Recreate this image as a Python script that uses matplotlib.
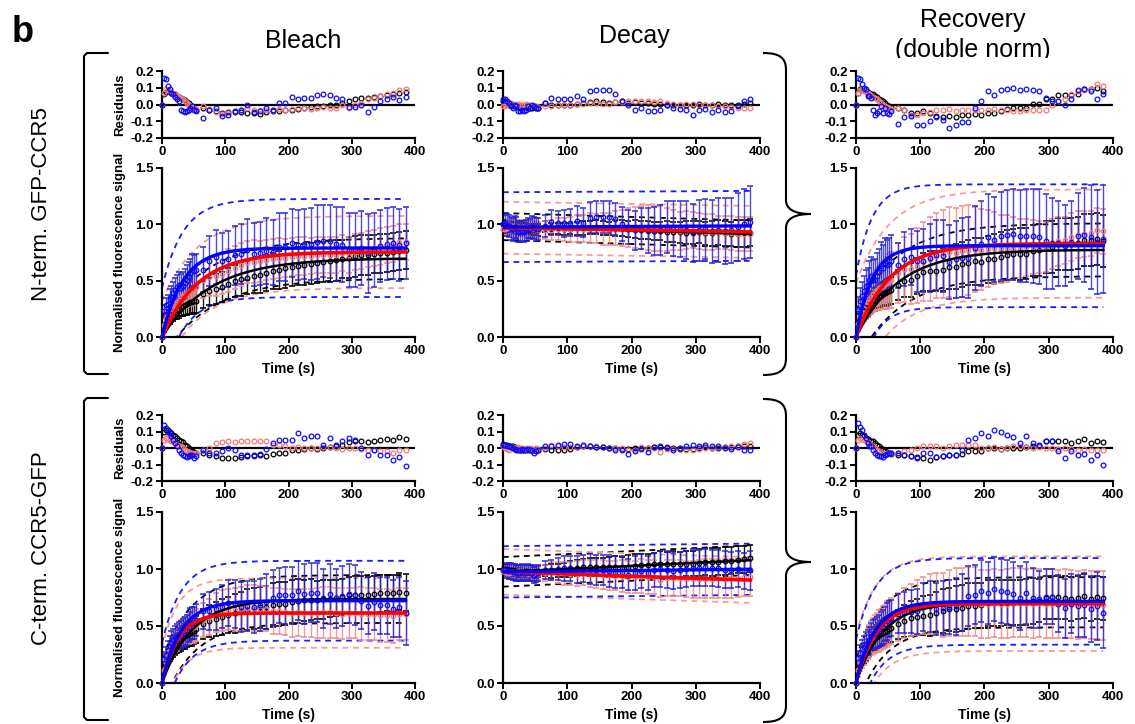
import numpy as np
import matplotlib
matplotlib.use("Agg")
import matplotlib.pyplot as plt
from matplotlib.path import Path
from matplotlib.patches import PathPatch
from matplotlib.transforms import Bbox, TransformedBbox

plt.rcParams['font.family'] = ['Liberation Sans', 'DejaVu Sans']
plt.rcParams['font.weight'] = 'bold'

# ---------------------------------------------------------------- time axis (s)
t_early = [0, 3, 6, 9, 12, 15, 18, 21, 24, 27, 30, 33, 36, 39, 42, 45, 48, 51, 54]
t_late = [65, 75, 85, 95, 105, 115, 125, 135, 145, 155, 165,
          175, 185, 195, 205, 215, 225, 235, 245, 255, 265, 275,
          285, 295, 305, 315, 325, 335, 345, 355, 365, 375, 385]

# series order everywhere: black, red, blue
# ---------------------------------------------------------------- fit parameters
# recovery-type fits: plateau * (1 - exp(-rate * t)); decay fits: start * exp(-rate * t)
nt_bleach_plateau = [0.70, 0.755, 0.79]
nt_bleach_rate = [0.0129, 0.0177, 0.030]
nt_bleach_band = [0.18, 0.32, 0.435]

nt_decay_start = [0.98, 0.97, 0.975]
nt_decay_rate = [0.00018, 0.0001, -0.00003]
nt_decay_band = [0.12, 0.23, 0.31]

nt_recov_plateau = [0.775, 0.83, 0.81]
nt_recov_rate = [0.015, 0.019, 0.040]
nt_recov_band = [0.235, 0.48, 0.545]

ct_bleach_plateau = [0.737, 0.614, 0.722]
ct_bleach_rate = [0.021, 0.039, 0.033]
ct_bleach_band = [0.21, 0.305, 0.35]

ct_decay_start = [0.975, 0.975, 0.975]
ct_decay_rate = [-0.00026, 0.0002, -0.00006]
ct_decay_band = [0.13, 0.20, 0.225]

ct_recov_plateau = [0.708, 0.696, 0.716]
ct_recov_rate = [0.024, 0.032, 0.034]
ct_recov_band = [0.22, 0.415, 0.38]

# ---------------------------------------------------------------- residuals (data - fit)
# N-term. GFP-CCR5, bleach
nt_bleach_res_k = [0.0, 0.06, 0.075, 0.08, 0.075, 0.07, 0.065, 0.06, 0.05, 0.045,
                   0.04, 0.03, 0.025, 0.015, 0.01, 0.0, -0.01, -0.02, -0.03,
                   -0.02, -0.03, -0.04, -0.05, -0.045, -0.045, -0.045, -0.05, -0.05, -0.055, -0.045,
                   -0.04, -0.04, -0.035, -0.03, -0.025, -0.02, -0.015, -0.01, -0.01, -0.005, 0.0,
                   0.01, 0.02, 0.03, 0.04, 0.04, 0.045, 0.05, 0.055, 0.06, 0.07, 0.075]
nt_bleach_res_r = [0.0, 0.07, 0.09, 0.085, 0.08, 0.07, 0.065, 0.06, 0.05, 0.045,
                   0.04, 0.03, 0.02, 0.01, 0.0, -0.01, -0.015, -0.02, -0.025,
                   -0.01, -0.025, -0.045, -0.055, -0.05, -0.04, -0.03, -0.02, -0.03, -0.035, -0.03,
                   -0.03, -0.025, -0.03, -0.025, -0.02, -0.02, -0.025, -0.02, -0.015, -0.02, -0.02,
                   -0.005, -0.02, 0.0, 0.01, 0.03, 0.04, 0.05, 0.06, 0.07, 0.085, 0.09]
nt_bleach_res_b = [0.0, 0.16, 0.15, 0.11, 0.095, 0.07, 0.06, 0.045, 0.035, 0.02,
                   -0.03, -0.04, -0.045, -0.04, -0.03, -0.02, -0.01, -0.035, -0.04,
                   -0.08, -0.03, -0.02, -0.07, -0.065, -0.04, -0.035, 0.0, -0.045, -0.04, -0.02,
                   -0.035, 0.01, 0.01, 0.046, 0.03, 0.04, 0.04, 0.054, 0.06, 0.058, 0.036,
                   0.03, -0.015, -0.015, 0.0, -0.046, -0.015, 0.02, 0.035, 0.045, 0.025, 0.045]
# N-term. GFP-CCR5, decay
nt_decay_res_k = [0.02, 0.015, 0.01, 0.0, 0.0, -0.01, -0.01, -0.01, -0.015, -0.02,
                  -0.015, -0.01, -0.015, -0.02, -0.02, -0.02, -0.015, -0.02, -0.02,
                  0.01, -0.005, 0.0, -0.005, 0.0, 0.005, 0.01, 0.015, 0.02, 0.015, 0.01,
                  0.015, 0.02, 0.01, 0.015, 0.01, 0.01, 0.005, 0.005, 0.0, 0.0, -0.005,
                  -0.005, 0.0, 0.005, -0.005, -0.005, 0.005, 0.0, -0.005, 0.0, 0.005, 0.01]
nt_decay_res_r = [-0.01, -0.01, -0.005, 0.005, 0.01, 0.005, 0.0, -0.005, 0.005, 0.0,
                  -0.005, 0.0, 0.005, 0.0, -0.005, -0.01, -0.01, -0.01, -0.015,
                  -0.01, -0.01, -0.005, -0.005, -0.005, 0.005, 0.005, 0.01, 0.01, 0.005, 0.005,
                  0.015, 0.015, 0.02, 0.02, 0.02, 0.02, 0.015, 0.02, 0.01, 0.005, 0.0,
                  0.005, 0.005, 0.0, -0.005, -0.005, -0.01, -0.01, -0.015, -0.02, -0.02, -0.02]
nt_decay_res_b = [0.03, 0.035, 0.02, 0.01, -0.01, -0.02, 0.0, -0.01, -0.04, -0.04,
                  -0.035, -0.04, -0.03, -0.01, -0.02, 0.0, -0.01, -0.02, -0.02,
                  0.01, 0.04, 0.035, 0.03, 0.035, 0.05, 0.035, 0.08, 0.085, 0.085, 0.085,
                  0.065, 0.02, -0.005, -0.035, -0.02, -0.04, -0.04, -0.035, -0.005, -0.02, -0.025,
                  -0.035, -0.06, -0.035, -0.025, -0.045, -0.035, -0.045, -0.04, -0.01, 0.02, 0.035]
# N-term. GFP-CCR5, recovery (double norm)
nt_recov_res_k = [0.0, 0.07, 0.09, 0.09, 0.085, 0.08, 0.075, 0.07, 0.065, 0.06,
                  0.05, 0.045, 0.035, 0.025, 0.02, 0.01, 0.0, -0.01, -0.015,
                  -0.02, -0.03, -0.05, -0.05, -0.04, -0.05, -0.07, -0.075, -0.07, -0.075, -0.065,
                  -0.06, -0.055, -0.065, -0.05, -0.05, -0.04, -0.025, -0.02, -0.02, -0.02, 0.005,
                  0.005, 0.03, 0.03, 0.055, 0.055, 0.055, 0.065, 0.09, 0.09, 0.1, 0.08]
nt_recov_res_r = [0.0, 0.07, 0.085, 0.09, 0.08, 0.075, 0.07, 0.06, 0.05, 0.045,
                  0.04, 0.03, 0.02, 0.01, 0.0, -0.01, -0.015, -0.02, -0.025,
                  -0.02, -0.03, -0.06, -0.06, -0.05, -0.045, -0.03, -0.03, -0.025, -0.04, -0.035,
                  -0.03, -0.03, -0.035, -0.03, -0.025, -0.035, -0.035, -0.04, -0.04, -0.03, -0.03,
                  -0.03, -0.03, 0.0, 0.02, 0.03, 0.06, 0.08, 0.085, 0.09, 0.12, 0.11]
nt_recov_res_b = [0.0, 0.16, 0.15, 0.12, 0.1, 0.09, 0.05, 0.05, 0.04, -0.03,
                  -0.06, -0.05, -0.04, -0.01, -0.05, -0.02, -0.05, -0.055, -0.04,
                  -0.115, -0.075, -0.07, -0.12, -0.12, -0.1, -0.075, -0.09, -0.14, -0.12, -0.105,
                  -0.105, -0.02, 0.02, 0.08, 0.055, 0.085, 0.095, 0.1, 0.085, 0.09, 0.085,
                  0.08, 0.04, 0.02, 0.02, 0.0, 0.035, 0.085, 0.095, 0.08, 0.035, 0.06]
# C-term. CCR5-GFP, bleach
ct_bleach_res_k = [0.0, 0.1, 0.11, 0.11, 0.1, 0.09, 0.08, 0.07, 0.06, 0.05,
                   0.04, 0.035, 0.02, 0.01, 0.0, -0.01, -0.02, -0.025, -0.03,
                   -0.03, -0.04, -0.05, -0.06, -0.06, -0.06, -0.055, -0.05, -0.045, -0.045, -0.05,
                   -0.035, -0.03, -0.03, -0.015, -0.01, -0.005, 0.0, -0.005, 0.0, 0.005, 0.01,
                   0.02, 0.035, 0.04, 0.04, 0.035, 0.04, 0.05, 0.055, 0.05, 0.065, 0.055]
ct_bleach_res_r = [0.0, 0.05, 0.06, 0.055, 0.05, 0.045, 0.04, 0.03, 0.02, 0.015,
                   0.01, 0.0, -0.01, -0.02, -0.025, -0.03, -0.03, -0.035, -0.03,
                   -0.01, 0.0, 0.03, 0.035, 0.04, 0.035, 0.04, 0.045, 0.045, 0.04, 0.04,
                   0.02, 0.02, 0.01, 0.0, 0.005, 0.0, 0.0, 0.0, 0.005, 0.005, 0.0,
                   -0.005, 0.0, 0.0, -0.005, -0.01, -0.01, -0.02, -0.02, -0.03, -0.01, -0.01]
ct_bleach_res_b = [0.0, 0.14, 0.12, 0.1, 0.09, 0.07, 0.05, 0.03, 0.01, -0.01,
                   -0.03, -0.04, -0.05, -0.055, -0.05, -0.04, -0.045, -0.06, -0.05,
                   -0.01, -0.03, -0.03, -0.02, 0.0, -0.01, -0.04, -0.04, -0.05, -0.035, -0.005,
                   0.03, 0.05, 0.05, 0.05, 0.09, 0.06, 0.07, 0.07, 0.02, 0.06, 0.02,
                   0.04, 0.06, 0.05, 0.0, -0.045, -0.01, -0.04, -0.04, -0.07, -0.055, -0.11]
# C-term. CCR5-GFP, decay
ct_decay_res_k = [0.025, 0.02, 0.02, 0.015, 0.01, 0.01, 0.005, 0.0, -0.005, -0.01,
                  -0.01, -0.01, -0.005, -0.01, -0.01, -0.01, -0.01, -0.015, -0.01,
                  -0.005, -0.01, -0.01, -0.01, -0.005, 0.005, 0.01, 0.01, 0.005, 0.005, 0.0,
                  0.0, -0.005, -0.005, 0.0, 0.0, 0.0, 0.005, 0.005, 0.0, 0.0, -0.005,
                  -0.005, -0.005, 0.0, 0.005, 0.0, 0.0, 0.005, 0.005, 0.01, 0.01, 0.015]
ct_decay_res_r = [0.01, 0.0, -0.005, -0.01, 0.0, 0.005, -0.005, 0.0, 0.005, -0.005,
                  0.0, -0.005, 0.0, -0.01, 0.0, -0.005, -0.01, 0.0, -0.005,
                  0.0, 0.02, 0.01, 0.005, 0.005, 0.005, 0.015, 0.01, 0.01, 0.005, 0.0,
                  0.0, 0.0, -0.01, -0.01, 0.005, 0.0, 0.0, -0.025, -0.005, -0.005, 0.0,
                  -0.01, -0.01, -0.005, 0.0, 0.0, 0.005, 0.005, 0.01, 0.015, 0.025, 0.03]
ct_decay_res_b = [0.02, 0.02, 0.01, 0.01, 0.005, 0.0, -0.005, -0.01, -0.01, -0.01,
                  -0.005, -0.01, -0.01, -0.005, -0.01, -0.01, -0.03, -0.02, -0.015,
                  0.01, 0.01, 0.02, 0.025, 0.025, 0.015, 0.02, 0.015, 0.005, 0.005, 0.0,
                  -0.015, -0.01, -0.035, -0.02, -0.005, -0.025, 0.005, 0.01, 0.005, -0.01, 0.0,
                  0.01, 0.02, 0.015, 0.02, 0.015, 0.01, 0.0, -0.005, 0.005, -0.015, -0.01]
# C-term. CCR5-GFP, recovery (double norm)
ct_recov_res_k = [0.0, 0.08, 0.09, 0.08, 0.07, 0.06, 0.055, 0.05, 0.045, 0.04,
                  0.03, 0.02, 0.01, 0.0, -0.01, -0.02, -0.025, -0.03, -0.035,
                  -0.045, -0.045, -0.05, -0.055, -0.06, -0.07, -0.055, -0.05, -0.04, -0.04, -0.035,
                  -0.02, -0.02, -0.02, 0.0, 0.0, -0.005, 0.0, 0.0, 0.0, 0.005, 0.01,
                  0.015, 0.04, 0.045, 0.045, 0.04, 0.03, 0.04, 0.055, 0.03, 0.045, 0.035]
ct_recov_res_r = [0.0, 0.05, 0.06, 0.055, 0.05, 0.04, 0.035, 0.03, 0.02, 0.01,
                  0.0, -0.01, -0.02, -0.03, -0.03, -0.035, -0.03, -0.03, -0.03,
                  -0.03, -0.02, -0.01, 0.0, 0.01, 0.015, 0.015, 0.0, 0.01, 0.02, 0.02,
                  0.02, 0.02, 0.0, 0.0, 0.005, -0.005, 0.0, 0.01, 0.01, 0.005, 0.0,
                  0.005, 0.0, 0.0, -0.005, 0.0, -0.005, -0.01, -0.005, -0.01, -0.01, -0.015]
ct_recov_res_b = [0.0, 0.15, 0.13, 0.11, 0.08, 0.06, 0.03, 0.01, 0.01, -0.01,
                  -0.03, -0.04, -0.05, -0.05, -0.055, -0.04, -0.035, -0.03, -0.03,
                  -0.03, -0.04, -0.05, -0.06, -0.03, -0.03, -0.055, -0.05, -0.045, -0.04, -0.01,
                  0.05, 0.06, 0.09, 0.075, 0.11, 0.095, 0.08, 0.065, 0.03, 0.075, 0.03,
                  0.02, 0.04, 0.04, -0.02, -0.06, -0.02, -0.04, -0.035, -0.07, -0.04, -0.1]

# ---------------------------------------------------------------- standard deviations
nt_bleach_sd_k = [0.0, 0.04, 0.05, 0.05, 0.06, 0.06, 0.07, 0.07, 0.08, 0.08,
                  0.08, 0.09, 0.09, 0.10, 0.10, 0.10, 0.10, 0.11, 0.11,
                  0.12, 0.12, 0.13, 0.13, 0.14, 0.14, 0.15, 0.15, 0.15, 0.16, 0.16,
                  0.16, 0.17, 0.17, 0.17, 0.17, 0.18, 0.18, 0.18, 0.18, 0.18, 0.18,
                  0.17, 0.18, 0.18, 0.18, 0.18, 0.17, 0.17, 0.17, 0.17, 0.17, 0.17]
nt_bleach_sd_r = [0.0, 0.05, 0.06, 0.07, 0.08, 0.08, 0.09, 0.09, 0.10, 0.10,
                  0.11, 0.11, 0.12, 0.12, 0.12, 0.13, 0.13, 0.13, 0.14,
                  0.16, 0.17, 0.18, 0.18, 0.19, 0.19, 0.19, 0.19, 0.19, 0.18, 0.18,
                  0.18, 0.18, 0.17, 0.17, 0.17, 0.17, 0.16, 0.16, 0.16, 0.16, 0.16,
                  0.16, 0.16, 0.16, 0.16, 0.16, 0.16, 0.16, 0.16, 0.16, 0.16, 0.16]
nt_bleach_sd_b = [0.0, 0.06, 0.07, 0.08, 0.09, 0.10, 0.10, 0.11, 0.11, 0.12,
                  0.12, 0.12, 0.13, 0.13, 0.13, 0.13, 0.14, 0.14, 0.14,
                  0.20, 0.22, 0.24, 0.25, 0.25, 0.26, 0.27, 0.27, 0.28, 0.28, 0.29,
                  0.29, 0.30, 0.30, 0.30, 0.31, 0.31, 0.32, 0.33, 0.32, 0.32, 0.33,
                  0.33, 0.33, 0.33, 0.33, 0.35, 0.33, 0.32, 0.32, 0.32, 0.32, 0.32]
nt_decay_sd_k = [0.03, 0.04, 0.04, 0.05, 0.05, 0.05, 0.05, 0.05, 0.05, 0.05,
                 0.05, 0.05, 0.05, 0.05, 0.05, 0.05, 0.05, 0.05, 0.05,
                 0.05, 0.05, 0.05, 0.05, 0.05, 0.06, 0.06, 0.06, 0.06, 0.06, 0.06,
                 0.07, 0.07, 0.07, 0.08, 0.08, 0.08, 0.08, 0.08, 0.09, 0.09, 0.09,
                 0.10, 0.10, 0.10, 0.10, 0.11, 0.11, 0.11, 0.11, 0.12, 0.12, 0.12]
nt_decay_sd_r = [0.05, 0.06, 0.06, 0.06, 0.07, 0.07, 0.07, 0.07, 0.07, 0.07,
                 0.07, 0.07, 0.07, 0.07, 0.07, 0.07, 0.07, 0.07, 0.07,
                 0.08, 0.09, 0.10, 0.10, 0.11, 0.12, 0.12, 0.13, 0.13, 0.14, 0.14,
                 0.15, 0.16, 0.17, 0.18, 0.19, 0.20, 0.20, 0.20, 0.19, 0.18, 0.17,
                 0.17, 0.16, 0.16, 0.16, 0.16, 0.15, 0.15, 0.15, 0.15, 0.15, 0.15]
nt_decay_sd_b = [0.08, 0.09, 0.10, 0.10, 0.10, 0.10, 0.10, 0.10, 0.09, 0.09,
                 0.09, 0.09, 0.09, 0.09, 0.09, 0.10, 0.10, 0.10, 0.10,
                 0.10, 0.11, 0.11, 0.12, 0.12, 0.13, 0.13, 0.14, 0.14, 0.14, 0.14,
                 0.14, 0.15, 0.15, 0.17, 0.18, 0.20, 0.21, 0.22, 0.23, 0.24, 0.25,
                 0.26, 0.26, 0.27, 0.27, 0.28, 0.28, 0.29, 0.29, 0.30, 0.31, 0.32]
nt_recov_sd_k = [0.0, 0.04, 0.05, 0.06, 0.07, 0.07, 0.08, 0.08, 0.09, 0.09,
                 0.10, 0.10, 0.10, 0.11, 0.11, 0.11, 0.12, 0.12, 0.12,
                 0.13, 0.14, 0.15, 0.16, 0.17, 0.18, 0.18, 0.19, 0.19, 0.20, 0.20,
                 0.20, 0.21, 0.21, 0.21, 0.22, 0.22, 0.22, 0.22, 0.23, 0.23, 0.23,
                 0.23, 0.23, 0.23, 0.23, 0.23, 0.23, 0.23, 0.23, 0.23, 0.23, 0.23]
nt_recov_sd_r = [0.0, 0.06, 0.08, 0.10, 0.11, 0.12, 0.13, 0.14, 0.15, 0.16,
                 0.17, 0.18, 0.19, 0.20, 0.21, 0.22, 0.23, 0.24, 0.25,
                 0.27, 0.29, 0.31, 0.33, 0.35, 0.37, 0.38, 0.39, 0.40, 0.40, 0.40,
                 0.40, 0.38, 0.36, 0.34, 0.32, 0.30, 0.30, 0.28, 0.26, 0.25, 0.24,
                 0.23, 0.22, 0.22, 0.22, 0.21, 0.21, 0.21, 0.20, 0.20, 0.20, 0.20]
nt_recov_sd_b = [0.0, 0.10, 0.11, 0.12, 0.13, 0.14, 0.15, 0.16, 0.17, 0.18,
                 0.19, 0.20, 0.20, 0.21, 0.21, 0.22, 0.22, 0.23, 0.23,
                 0.20, 0.24, 0.25, 0.27, 0.28, 0.30, 0.31, 0.32, 0.33, 0.34, 0.35,
                 0.36, 0.37, 0.38, 0.38, 0.38, 0.39, 0.40, 0.40, 0.41, 0.41, 0.42,
                 0.42, 0.42, 0.40, 0.38, 0.36, 0.36, 0.38, 0.42, 0.46, 0.46, 0.48]
ct_bleach_sd_k = [0.0, 0.04, 0.05, 0.06, 0.07, 0.08, 0.08, 0.09, 0.09, 0.10,
                  0.10, 0.10, 0.11, 0.11, 0.11, 0.12, 0.12, 0.12, 0.12,
                  0.13, 0.14, 0.15, 0.16, 0.16, 0.17, 0.17, 0.18, 0.18, 0.18, 0.19,
                  0.19, 0.19, 0.19, 0.19, 0.19, 0.18, 0.18, 0.17, 0.17, 0.16, 0.16,
                  0.16, 0.16, 0.16, 0.16, 0.16, 0.16, 0.16, 0.16, 0.16, 0.16, 0.16]
ct_bleach_sd_r = [0.0, 0.05, 0.06, 0.07, 0.08, 0.09, 0.10, 0.10, 0.11, 0.11,
                  0.12, 0.12, 0.12, 0.13, 0.13, 0.13, 0.13, 0.14, 0.14,
                  0.15, 0.16, 0.17, 0.18, 0.18, 0.19, 0.19, 0.20, 0.20, 0.20, 0.20,
                  0.20, 0.20, 0.20, 0.21, 0.21, 0.21, 0.21, 0.22, 0.22, 0.22, 0.22,
                  0.22, 0.22, 0.22, 0.23, 0.23, 0.23, 0.23, 0.23, 0.23, 0.23, 0.23]
ct_bleach_sd_b = [0.0, 0.06, 0.07, 0.08, 0.09, 0.10, 0.10, 0.11, 0.11, 0.12,
                  0.12, 0.12, 0.13, 0.13, 0.13, 0.14, 0.14, 0.14, 0.14,
                  0.15, 0.17, 0.18, 0.19, 0.20, 0.21, 0.22, 0.22, 0.23, 0.23, 0.24,
                  0.24, 0.24, 0.25, 0.25, 0.26, 0.26, 0.26, 0.26, 0.26, 0.26, 0.26,
                  0.26, 0.26, 0.26, 0.25, 0.25, 0.25, 0.25, 0.25, 0.25, 0.26, 0.28]
ct_decay_sd_k = [0.03, 0.04, 0.04, 0.04, 0.05, 0.05, 0.05, 0.05, 0.05, 0.05,
                 0.05, 0.05, 0.05, 0.05, 0.05, 0.05, 0.05, 0.05, 0.05,
                 0.05, 0.06, 0.06, 0.06, 0.07, 0.07, 0.07, 0.08, 0.08, 0.08, 0.09,
                 0.09, 0.09, 0.10, 0.10, 0.10, 0.10, 0.10, 0.11, 0.11, 0.11, 0.11,
                 0.11, 0.11, 0.12, 0.12, 0.12, 0.12, 0.12, 0.12, 0.12, 0.12, 0.12]
ct_decay_sd_r = [0.04, 0.05, 0.05, 0.05, 0.05, 0.06, 0.06, 0.06, 0.06, 0.06,
                 0.06, 0.06, 0.06, 0.06, 0.06, 0.06, 0.06, 0.06, 0.06,
                 0.07, 0.08, 0.09, 0.10, 0.10, 0.11, 0.11, 0.12, 0.12, 0.13, 0.13,
                 0.13, 0.14, 0.14, 0.14, 0.15, 0.15, 0.15, 0.15, 0.16, 0.16, 0.16,
                 0.16, 0.16, 0.17, 0.17, 0.17, 0.17, 0.17, 0.17, 0.17, 0.17, 0.17]
ct_decay_sd_b = [0.05, 0.06, 0.06, 0.07, 0.07, 0.07, 0.07, 0.07, 0.07, 0.07,
                 0.07, 0.07, 0.07, 0.07, 0.07, 0.07, 0.07, 0.07, 0.07,
                 0.08, 0.09, 0.10, 0.11, 0.11, 0.12, 0.12, 0.13, 0.13, 0.13, 0.14,
                 0.14, 0.14, 0.14, 0.15, 0.15, 0.15, 0.15, 0.16, 0.16, 0.16, 0.16,
                 0.16, 0.16, 0.16, 0.16, 0.16, 0.16, 0.16, 0.16, 0.16, 0.16, 0.17]
ct_recov_sd_k = [0.0, 0.04, 0.05, 0.06, 0.07, 0.08, 0.08, 0.09, 0.09, 0.10,
                 0.10, 0.10, 0.11, 0.11, 0.11, 0.12, 0.12, 0.12, 0.12,
                 0.13, 0.14, 0.15, 0.16, 0.17, 0.18, 0.18, 0.19, 0.19, 0.20, 0.20,
                 0.20, 0.20, 0.20, 0.20, 0.20, 0.20, 0.20, 0.20, 0.20, 0.20, 0.20,
                 0.19, 0.19, 0.19, 0.19, 0.19, 0.19, 0.19, 0.19, 0.19, 0.19, 0.19]
ct_recov_sd_r = [0.0, 0.06, 0.08, 0.10, 0.11, 0.12, 0.13, 0.14, 0.15, 0.16,
                 0.17, 0.17, 0.18, 0.18, 0.19, 0.19, 0.20, 0.20, 0.20,
                 0.21, 0.22, 0.23, 0.24, 0.25, 0.26, 0.27, 0.28, 0.29, 0.30, 0.30,
                 0.30, 0.30, 0.30, 0.30, 0.30, 0.30, 0.30, 0.30, 0.30, 0.30, 0.30,
                 0.30, 0.30, 0.30, 0.30, 0.30, 0.30, 0.30, 0.30, 0.30, 0.30, 0.30]
ct_recov_sd_b = [0.0, 0.06, 0.07, 0.08, 0.09, 0.10, 0.11, 0.12, 0.12, 0.13,
                 0.13, 0.14, 0.14, 0.15, 0.15, 0.15, 0.16, 0.16, 0.16,
                 0.17, 0.18, 0.19, 0.20, 0.21, 0.22, 0.23, 0.24, 0.24, 0.25, 0.25,
                 0.26, 0.26, 0.27, 0.27, 0.28, 0.28, 0.28, 0.28, 0.28, 0.27, 0.26,
                 0.25, 0.24, 0.24, 0.25, 0.26, 0.26, 0.27, 0.28, 0.29, 0.30, 0.31]

# ---------------------------------------------------------------- labels
column_titles = ["Bleach", "Decay", "Recovery", "(double norm)"]
row_labels = ["N-term. GFP-CCR5", "C-term. CCR5-GFP"]
res_yticks = [-0.2, -0.1, 0.0, 0.1, 0.2]
res_yticklabels = ["-0.2", "-0.1", "0.0", "0.1", "0.2"]
main_yticks = [0.0, 0.5, 1.0, 1.5]
main_yticklabels = ["0.0", "0.5", "1.0", "1.5"]
xticks = [0, 100, 200, 300, 400]

# ---------------------------------------------------------------- styling
point_colors = ["#000000", "#f27a76", "#0a0aff"]
fit_colors = ["#000000", "#ff0000", "#0000ff"]
fit_widths = [1.8, 2.6, 2.4]
band_colors = ["#000000", "#f59c98", "#1a1aff"]
err_colors = ["#000000", "#f28a86", "#1f1fd8"]
err_alpha = [0.9, 0.85, 0.8]

W, H = 1135, 724
fig = plt.figure(figsize=(W / 100, H / 100), dpi=100)


def add_px_axes(x0, x1, ytop, ybot):
    return fig.add_axes([x0 / W, 1 - ybot / H, (x1 - x0) / W, (ybot - ytop) / H])


def recovery_model(t, plateau, rate):
    return plateau * (1.0 - np.exp(-rate * t))


def decay_model(t, start, rate):
    return start * np.exp(-rate * t)


def style_axes(ax, yticks, yticklabels, ylim):
    ax.set_xlim(0, 400)
    ax.set_ylim(*ylim)
    for s in ("top", "right"):
        ax.spines[s].set_visible(False)
    for s in ("left", "bottom"):
        ax.spines[s].set_linewidth(1.6)
    ax.set_xticks(xticks)
    ax.set_xticklabels([str(v) for v in xticks])
    ax.set_yticks(yticks)
    ax.set_yticklabels(yticklabels)
    ax.tick_params(direction="out", length=4, width=1.4, labelsize=9.5, pad=2)
    ax.patch.set_alpha(0)


def draw_panel(ax_res, ax_main, model, p1, p2, band, res_series, sd_series):
    t = np.array(t_early + t_late, dtype=float)
    tf = np.linspace(0, 385, 400)
    style_axes(ax_res, res_yticks, res_yticklabels, (-0.2, 0.2))
    style_axes(ax_main, main_yticks, main_yticklabels, (0, 1.5))
    ax_res.axhline(0, color="black", lw=1.6, zorder=1)

    fits = []
    for i in range(3):
        fit_f = model(tf, p1[i], p2[i])
        fits.append(fit_f)
        # prediction band around the fit
        for sgn in (1, -1):
            ax_main.plot(tf, fit_f + sgn * band[i], color=band_colors[i], lw=1.3,
                         ls=(0, (3.2, 2.6)), zorder=1)
    for i in range(3):
        res = np.array(res_series[i])
        sd = np.array(sd_series[i])
        mean = model(t, p1[i], p2[i]) + res
        ax_main.errorbar(t, mean, yerr=sd, fmt="none", ecolor=err_colors[i],
                         elinewidth=1.0, capsize=2.2, capthick=1.3,
                         alpha=err_alpha[i], zorder=2)
    for i in range(3):
        res = np.array(res_series[i])
        mean = model(t, p1[i], p2[i]) + res
        ax_main.plot(t, mean, "o", mfc="none", mec=point_colors[i], ms=3.3,
                     mew=0.9, zorder=3, clip_on=False)
        ax_res.plot(t, res, "o", mfc="none", mec=point_colors[i], ms=3.4,
                    mew=0.9, zorder=3, clip_on=False)
    for i in range(3):
        ax_main.plot(tf, fits[i], color=fit_colors[i], lw=fit_widths[i], zorder=4)


cols_x = [(162, 415), (503, 760), (856, 1113)]
rows_y = [((71, 138), (168, 337)), ((415, 481), (512, 683))]

panels = [
    [(recovery_model, nt_bleach_plateau, nt_bleach_rate, nt_bleach_band,
      [nt_bleach_res_k, nt_bleach_res_r, nt_bleach_res_b],
      [nt_bleach_sd_k, nt_bleach_sd_r, nt_bleach_sd_b]),
     (decay_model, nt_decay_start, nt_decay_rate, nt_decay_band,
      [nt_decay_res_k, nt_decay_res_r, nt_decay_res_b],
      [nt_decay_sd_k, nt_decay_sd_r, nt_decay_sd_b]),
     (recovery_model, nt_recov_plateau, nt_recov_rate, nt_recov_band,
      [nt_recov_res_k, nt_recov_res_r, nt_recov_res_b],
      [nt_recov_sd_k, nt_recov_sd_r, nt_recov_sd_b])],
    [(recovery_model, ct_bleach_plateau, ct_bleach_rate, ct_bleach_band,
      [ct_bleach_res_k, ct_bleach_res_r, ct_bleach_res_b],
      [ct_bleach_sd_k, ct_bleach_sd_r, ct_bleach_sd_b]),
     (decay_model, ct_decay_start, ct_decay_rate, ct_decay_band,
      [ct_decay_res_k, ct_decay_res_r, ct_decay_res_b],
      [ct_decay_sd_k, ct_decay_sd_r, ct_decay_sd_b]),
     (recovery_model, ct_recov_plateau, ct_recov_rate, ct_recov_band,
      [ct_recov_res_k, ct_recov_res_r, ct_recov_res_b],
      [ct_recov_sd_k, ct_recov_sd_r, ct_recov_sd_b])],
]

for r, ((rt, rb), (mt, mb)) in enumerate(rows_y):
    for c, (x0, x1) in enumerate(cols_x):
        ax_res = add_px_axes(x0, x1, rt, rb)
        ax_main = add_px_axes(x0, x1, mt, mb)
        model, p1, p2, band, res_s, sd_s = panels[r][c]
        draw_panel(ax_res, ax_main, model, p1, p2, band, res_s, sd_s)
        xc = (x0 + x1) / 2
        fig.text(xc / W, 1 - (mb + 32) / H, "Time (s)", ha="center", va="center",
                 fontsize=10, fontweight="bold")
    fig.text(120 / W, 1 - (rt + rb) / 2 / H, "Residuals", rotation=90,
             ha="center", va="center", fontsize=9.5, fontweight="bold")
    fig.text(120 / W, 1 - (mt + mb) / 2 / H, "Normalised fluorescence signal",
             rotation=90, ha="center", va="center", fontsize=9.5, fontweight="bold")

# ---------------------------------------------------------------- titles and labels
fig.text(12 / W, 1 - 42 / H, "b", fontsize=26, fontweight="bold", va="baseline")
fig.text(303 / W, 1 - 48 / H, column_titles[0], fontsize=18, fontweight="normal",
         ha="center", va="baseline")
fig.text(634 / W, 1 - 43 / H, column_titles[1], fontsize=18, fontweight="normal",
         ha="center", va="baseline")
fig.text(973 / W, 1 - 27 / H, column_titles[2], fontsize=18, fontweight="normal",
         ha="center", va="baseline")
sub = fig.text(973 / W, 1 - 57 / H, column_titles[3], fontsize=18, fontweight="normal",
               ha="center", va="baseline")
sub.set_clip_box(TransformedBbox(Bbox([[0.70, 1 - 58 / H], [1.0, 1.0]]), fig.transFigure))
sub.set_clip_on(True)

fig.text(42 / W, 1 - 204 / H, row_labels[0], rotation=90, fontsize=16,
         fontweight="normal", ha="center", va="center")
fig.text(42 / W, 1 - 548 / H, row_labels[1], rotation=90, fontsize=16,
         fontweight="normal", ha="center", va="center")


# ---------------------------------------------------------------- brackets and braces
def px(x, y):
    return (x / W, 1 - y / H)


def add_left_bracket(ytop, ybot, xv=84, xh=108):
    verts = [px(xh, ytop), px(xv + 3, ytop), px(xv, ytop + 3), px(xv, ybot - 3),
             px(xv + 3, ybot), px(xh, ybot)]
    codes = [Path.MOVETO, Path.LINETO, Path.LINETO, Path.LINETO, Path.LINETO, Path.LINETO]
    fig.add_artist(PathPatch(Path(verts, codes), fill=False, lw=1.5,
                             edgecolor="black", transform=fig.transFigure,
                             joinstyle="round", capstyle="round"))


def add_right_brace(ytop, ybot, ytip, xl=763, xm=786, xt=811):
    verts = [px(xl, ytop),
             px(xl + 17, ytop), px(xm, ytop + 5), px(xm, ytop + 17),
             px(xm, ytip - 14),
             px(xm, ytip - 5), px(xm + 8, ytip), px(xt, ytip),
             px(xm + 8, ytip), px(xm, ytip + 5), px(xm, ytip + 14),
             px(xm, ybot - 17),
             px(xm, ybot - 5), px(xl + 17, ybot), px(xl, ybot)]
    codes = [Path.MOVETO,
             Path.CURVE4, Path.CURVE4, Path.CURVE4,
             Path.LINETO,
             Path.CURVE4, Path.CURVE4, Path.CURVE4,
             Path.CURVE4, Path.CURVE4, Path.CURVE4,
             Path.LINETO,
             Path.CURVE4, Path.CURVE4, Path.CURVE4]
    fig.add_artist(PathPatch(Path(verts, codes), fill=False, lw=1.5,
                             edgecolor="black", transform=fig.transFigure))


add_left_bracket(53, 374)
add_left_bracket(398, 720)
add_right_brace(53, 375, 214)
add_right_brace(399, 722, 562)

fig.savefig("out.png", dpi=100)
